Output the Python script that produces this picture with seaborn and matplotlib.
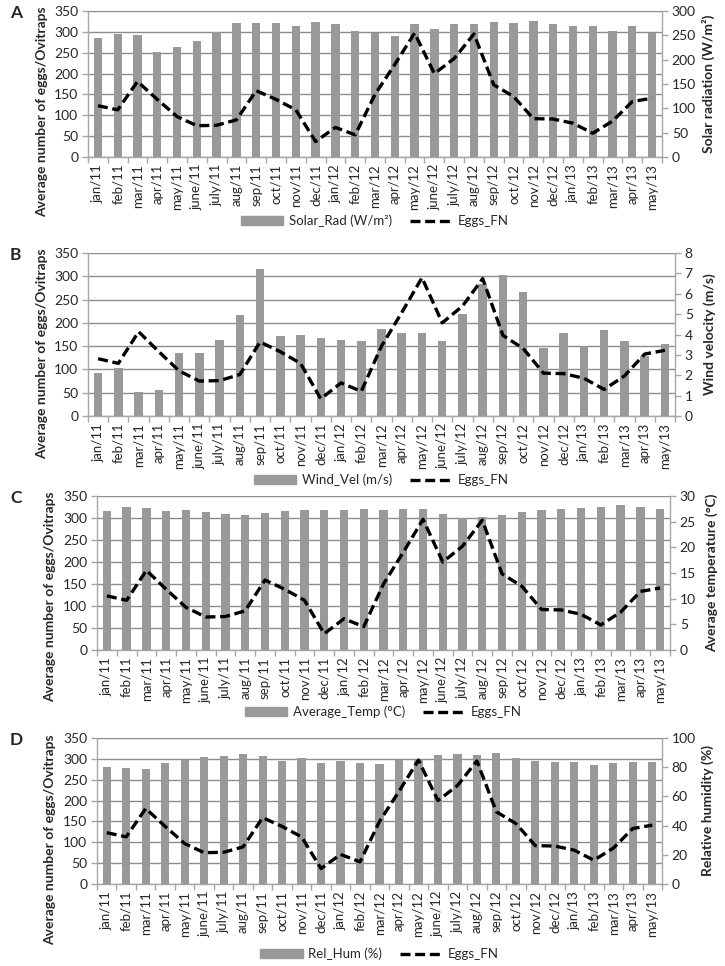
import numpy as np
import pandas as pd
import matplotlib
matplotlib.use("Agg")
import matplotlib.pyplot as plt
import matplotlib.patches as mpatches
import matplotlib.lines as mlines
import seaborn as sns

# --- data ---
months = ["jan/11", "feb/11", "mar/11", "apr/11", "may/11", "june/11", "july/11", "aug/11",
          "sep/11", "oct/11", "nov/11", "dec/11", "jan/12", "feb/12", "mar/12", "apr/12",
          "may/12", "june/12", "july/12", "aug/12", "sep/12", "oct/12", "nov/12", "dec/12",
          "jan/13", "feb/13", "mar/13", "apr/13", "may/13"]

eggs_fn = [123, 113, 181, 138, 97, 75, 76, 89, 159, 138, 113, 37, 71, 53, 150, 222,
           297, 200, 236, 295, 173, 145, 92, 91, 81, 57, 86, 133, 141]

solar_rad = [244, 253, 250, 215, 226, 239, 257, 275, 275, 275, 270, 278, 273, 259, 254, 249,
             273, 264, 273, 273, 278, 275, 279, 273, 269, 269, 258, 269, 254]

wind_vel = [2.13, 2.38, 1.18, 1.28, 3.07, 3.07, 3.73, 4.96, 7.21, 3.91, 3.96, 3.81, 3.73, 3.70,
            4.25, 4.07, 4.06, 3.68, 5.01, 6.5, 6.93, 6.07, 3.33, 4.09, 3.43, 4.22, 3.68, 2.94, 3.51]

avg_temp = [27.1, 27.8, 27.7, 27.1, 27.3, 26.8, 26.4, 26.3, 26.6, 27.1, 27.3, 27.3, 27.3, 27.5,
            27.2, 27.5, 27.4, 26.4, 25.7, 25.9, 26.3, 26.8, 27.2, 27.5, 27.7, 27.9, 28.2, 27.9, 27.4]

rel_hum = [80.0, 79.5, 78.9, 83.2, 84.8, 87.3, 88.0, 88.7, 87.7, 84.1, 86.0, 83.2, 84.1, 82.9,
           82.5, 85.2, 85.9, 88.2, 89.3, 88.2, 89.8, 86.6, 84.5, 83.9, 83.4, 81.8, 83.2, 83.9, 83.6]

panels = [
    # letter, values, legend name, right label, right max, right step,
    # box (left, right, top, bottom px), legend y, left label (x, y), right label x
    ("A", solar_rad, "Solar_Rad (W/m²)", "Solar radiation (W/m²)", 300, 50,
     (88, 662, 11, 157), 221, (42, 112), 708),
    ("B", wind_vel, "Wind_Vel (m/s)", "Wind velocity (m/s)", 8, 1,
     (88, 675, 253, 416), 480, (42, 354), 710),
    ("C", avg_temp, "Average_Temp (°C)", "Average temperature (°C)", 30, 5,
     (97, 670, 496, 650), 712, (50, 597), 712),
    ("D", rel_hum, "Rel_Hum (%)", "Relative humidity (%)", 100, 20,
     (97, 662, 738, 884), 954, (50, 840), 708),
]

sns.set_style("white")
plt.rcParams["font.family"] = ["Lato", "DejaVu Sans"]
plt.rcParams["font.size"] = 10

W, H = 725, 966
BAR_COLOR = "#999999"
GRID_COLOR = "#8c8c8c"
AXIS_COLOR = "#a6a6a6"
TICK_FS = 10
XTICK_FS = 9.5
LABEL_FS = 10

fig = plt.figure(figsize=(W / 100, H / 100), dpi=100)

for letter, values, leg_name, right_label, rmax, rstep, (l, r, t, b), leg_y, (lx, ly), rx in panels:
    df = pd.DataFrame({"month": months, "value": values, "eggs": eggs_fn})

    ax = fig.add_axes([l / W, 1 - b / H, (r - l) / W, (b - t) / H])
    ax_bar = ax.twinx()
    ax_line = ax.twinx()

    # bars (right axis)
    sns.barplot(data=df, x="month", y="value", ax=ax_bar, color=BAR_COLOR,
                width=0.42, saturation=1, edgecolor="none")
    # eggs line (left scale)
    sns.pointplot(data=df, x="month", y="eggs", ax=ax_line, color="black",
                  markers="", linestyles="--", errorbar=None)
    for ln in ax_line.lines:
        ln.set_linewidth(2.4)
        ln.set_dashes((3.0, 1.4))

    # left axis carries the gridlines
    ax.set_ylim(0, 350)
    ax.set_yticks(np.arange(0, 351, 50))
    ax.yaxis.grid(True, color=GRID_COLOR, lw=1)
    ax.set_axisbelow(True)
    ax_line.set_ylim(0, 350)
    ax_line.set_yticks([])
    ax_line.set_ylabel("")

    ax_bar.set_ylim(0, rmax)
    ax_bar.set_yticks(np.arange(0, rmax + rstep / 2, rstep))
    ax_bar.set_ylabel("")
    ax_bar.tick_params(axis="y", labelsize=TICK_FS, length=4, color=AXIS_COLOR, width=1,
                       right=True, direction="out", pad=3)

    n = len(months)
    ax.set_xlim(-0.5, n - 0.5)
    ax.set_xticks(range(n))
    ax.set_xticklabels(months, rotation=90, fontsize=XTICK_FS)
    ax.set_xticks(np.arange(-0.5, n, 1), minor=True)
    ax.tick_params(axis="x", which="major", length=0, pad=5)
    ax.tick_params(axis="x", which="minor", length=4, color=AXIS_COLOR, width=1, bottom=True)
    ax.tick_params(axis="y", labelsize=TICK_FS, length=4, color=AXIS_COLOR, width=1,
                   left=True, direction="out", pad=3)
    ax.set_xlabel("")
    ax.set_ylabel("")

    for a in (ax, ax_bar, ax_line):
        for s in a.spines.values():
            s.set_visible(False)
    ax.spines["left"].set_visible(True)
    ax.spines["bottom"].set_visible(True)
    ax_bar.spines["right"].set_visible(True)
    for s in (ax.spines["left"], ax.spines["bottom"], ax_bar.spines["right"]):
        s.set_color(AXIS_COLOR)
        s.set_linewidth(1)

    # axis titles, placed like the spreadsheet does
    fig.text(lx / W, 1 - ly / H, "Average number of eggs/Ovitraps", rotation=90,
             fontsize=LABEL_FS, fontweight="bold", ha="center", va="center")
    fig.text(rx / W, 1 - (t + b) / 2 / H, right_label, rotation=90,
             fontsize=LABEL_FS, fontweight="bold", ha="center", va="center")

    # legend below the tick labels
    handles = [mpatches.Patch(color=BAR_COLOR, label=leg_name),
               mlines.Line2D([], [], color="black", lw=2.4, dashes=(3.0, 1.4), label="Eggs_FN")]
    fig.legend(handles=handles, loc="center", ncol=2, frameon=False, fontsize=9.5,
               bbox_to_anchor=((l + r) / 2 / W, 1 - leg_y / H), handlelength=3.2,
               handleheight=0.6, columnspacing=1.4, handletextpad=0.4, borderpad=0)

    fig.text(10 / W, 1 - (t + 2) / H, letter, fontsize=12.5, fontweight="bold",
             ha="left", va="center")

fig.savefig("out.png", dpi=100)
